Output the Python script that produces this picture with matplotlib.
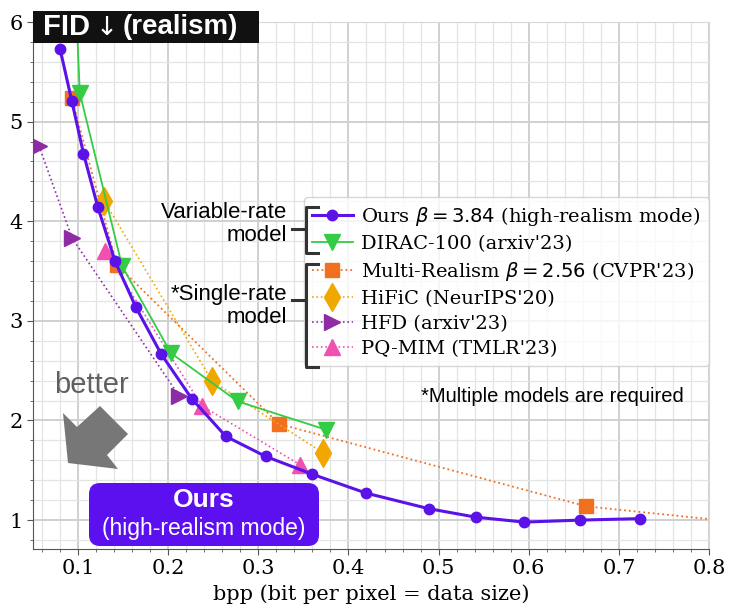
import matplotlib
matplotlib.use("Agg")
import matplotlib.pyplot as plt
from matplotlib.patches import Polygon, FancyBboxPatch, Rectangle
from matplotlib.lines import Line2D
from matplotlib.ticker import MultipleLocator

# data (bpp, FID)
ours_bpp = [0.080, 0.093, 0.106, 0.122, 0.141, 0.164, 0.192, 0.226, 0.264, 0.308,
            0.360, 0.420, 0.489, 0.541, 0.595, 0.657, 0.724]
ours_fid = [5.73, 5.21, 4.68, 4.14, 3.60, 3.14, 2.67, 2.22, 1.84, 1.64,
            1.46, 1.27, 1.115, 1.03, 0.98, 1.00, 1.015]

dirac_bpp = [0.096, 0.102, 0.149, 0.203, 0.277, 0.375]
dirac_fid = [6.5, 5.285, 3.546, 2.677, 2.192, 1.908]

multi_bpp = [0.093, 0.143, 0.323, 0.664, 0.95]
multi_fid = [5.235, 3.563, 1.965, 1.138, 0.87]

hific_bpp = [0.129, 0.249, 0.372]
hific_fid = [4.205, 2.392, 1.674]

hfd_bpp = [0.0565, 0.0934, 0.2125]
hfd_fid = [4.76, 3.83, 2.242]

pqmim_bpp = [0.130, 0.237, 0.346]
pqmim_fid = [3.70, 2.149, 1.557]

plt.rcParams['font.family'] = 'DejaVu Serif'
plt.rcParams['mathtext.fontset'] = 'dejavusans'

W, H = 740, 604
fig = plt.figure(figsize=(W / 100, H / 100), dpi=100)
ax = fig.add_axes([33 / W, 1 - 549 / H, 676 / W, 527 / H])

PURPLE = '#5a12e8'
ax.plot(ours_bpp, ours_fid, '-o', color=PURPLE, lw=2.2, ms=7.5, zorder=6,
        label=r'Ours $\beta=3.84$ (high-realism mode)')
ax.plot(dirac_bpp, dirac_fid, '-v', color='#33cc44', lw=1.3, ms=11, zorder=5,
        label="DIRAC-100 (arxiv'23)")
ax.plot(multi_bpp, multi_fid, ':s', color='#f07020', lw=1.3, ms=10.5, zorder=4,
        label=r"Multi-Realism $\beta=2.56$ (CVPR'23)")
ax.plot(hific_bpp, hific_fid, ':d', color='#f0a800', lw=1.2, ms=14, zorder=4,
        label="HiFiC (NeurIPS'20)")
ax.plot(hfd_bpp, hfd_fid, ':>', color='#8e2ca6', lw=1.2, ms=11, zorder=4,
        label="HFD (arxiv'23)")
ax.plot(pqmim_bpp, pqmim_fid, ':^', color='#f050b0', lw=1.2, ms=11, zorder=4,
        label="PQ-MIM (TMLR'23)")

ax.set_xlim(0.05, 0.8)
ax.set_ylim(0.71, 6.0)
ax.xaxis.set_major_locator(MultipleLocator(0.1))
ax.xaxis.set_minor_locator(MultipleLocator(0.02))
ax.yaxis.set_major_locator(MultipleLocator(1))
ax.yaxis.set_minor_locator(MultipleLocator(0.2))
ax.grid(which='major', color='#d0d0d0', lw=1.4)
ax.grid(which='minor', color='#e4e4e4', lw=0.9)
ax.set_axisbelow(True)
for s in ['top', 'right']:
    ax.spines[s].set_color('#d8d8d8')
for s in ['left', 'bottom']:
    ax.spines[s].set_color('#555555')
ax.tick_params(which='both', direction='out', color='#555555', labelsize=15)
ax.tick_params(which='major', length=4)
ax.tick_params(which='minor', length=2.5)
ax.set_xlabel('bpp (bit per pixel = data size)', fontsize=15, labelpad=4)

leg = ax.legend(loc='upper left', bbox_to_anchor=((304 - 33) / 676, (549 - 197) / 527),
                borderaxespad=0, fontsize=14, labelspacing=0.36, handlelength=2.1,
                handletextpad=0.45, framealpha=0.8, edgecolor='#cccccc', fancybox=True)
leg.set_zorder(10)

# decorations in pixel coordinates (top-left origin)
def P(x, y):
    return (x / 100, (H - y) / 100)

tr = fig.dpi_scale_trans
SANS = 'Liberation Sans'

# title box
fig.patches.append(Rectangle(P(33, 43), 226 / 100, 32 / 100, transform=tr,
                             facecolor='#111111', edgecolor='none', zorder=1))
fig.text(*P(43, 27), 'FID', transform=tr, color='white',
         fontsize=21, fontweight='bold', family=SANS, va='center', ha='left', zorder=3)
fig.text(*P(107, 28), '\u2193', transform=tr, color='white', family='DejaVu Sans',
         fontsize=19, va='center', ha='center', zorder=3)
fig.text(*P(123, 27), '(realism)', transform=tr, color='white',
         fontsize=20, fontweight='bold', family=SANS, va='center', ha='left', zorder=3)

# brackets
def bracket(y0, y1, ym):
    xs = [318, 306, 306, 318]
    ys = [y0, y0, y1, y1]
    fig.lines.append(Line2D([P(x, y)[0] for x, y in zip(xs, ys)],
                            [P(x, y)[1] for x, y in zip(xs, ys)],
                            transform=tr, color='#333333', lw=2.2, zorder=11))
    fig.lines.append(Line2D([P(292, ym)[0], P(306, ym)[0]], [P(292, ym)[1], P(306, ym)[1]],
                            transform=tr, color='#333333', lw=2.2, zorder=11))

bracket(207, 253, 229)
bracket(264, 367, 300)

fig.text(*P(287, 224), 'Variable-rate\nmodel', transform=tr, fontsize=16, family=SANS,
         ha='right', va='center', multialignment='right', linespacing=1.1, zorder=11)
fig.text(*P(287, 306), '*Single-rate\nmodel', transform=tr, fontsize=16, family=SANS,
         ha='right', va='center', multialignment='right', linespacing=1.1, zorder=11)
fig.text(*P(421, 397), '*Multiple models are required', transform=tr, fontsize=14.5,
         family=SANS, ha='left', va='center', zorder=11)

# "better" arrow
fig.text(*P(91, 385), 'better', transform=tr, fontsize=21, family=SANS, color='#606060',
         ha='center', va='center')
arrow_px = [(63, 413), (77, 427), (100, 406), (128, 434), (107, 455), (118, 469), (68, 463)]
fig.patches.append(Polygon([P(x, y) for x, y in arrow_px], closed=True, transform=tr,
                           facecolor='#777777', edgecolor='none', zorder=1))

# "Ours" box
x0, y0 = P(89, 546)
fig.patches.append(FancyBboxPatch((x0, y0), 230 / 100, 63 / 100, transform=tr,
                                  boxstyle='round,pad=0,rounding_size=0.11',
                                  facecolor='#5c10f0', edgecolor='none', zorder=12))
fig.text(*P(204, 500), 'Ours', transform=tr, fontsize=19, fontweight='bold', family=SANS,
         color='white', ha='center', va='center', zorder=13)
fig.text(*P(204, 529), '(high-realism mode)', transform=tr, fontsize=16.5, family=SANS,
         color='white', ha='center', va='center', zorder=13)

fig.savefig('out.png', dpi=100)
